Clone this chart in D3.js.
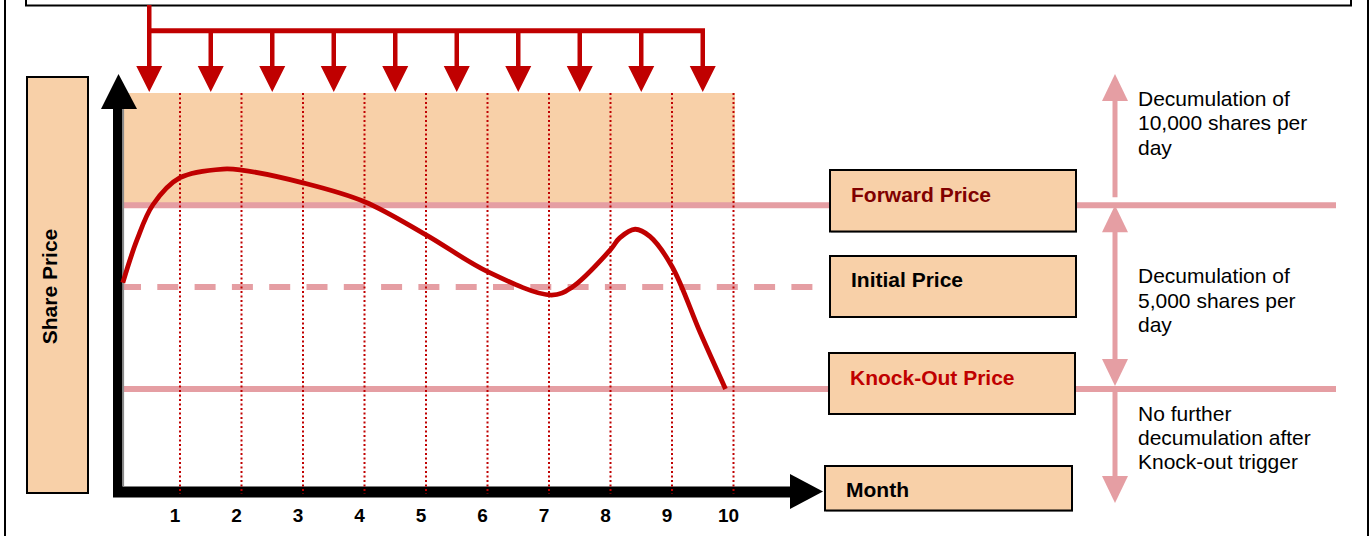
<!DOCTYPE html>
<html>
<head>
<meta charset="utf-8">
<script src="https://cdn.jsdelivr.net/npm/d3@7"></script>
<style>
  html, body { margin: 0; padding: 0; background: #fff; }
  svg { display: block; font-family: "Liberation Sans", Arial, sans-serif; }
</style>
</head>
<body>
<svg id="chart" width="1372" height="536"></svg>
<script>
// Months on the horizontal axis
const months = [1, 2, 3, 4, 5, 6, 7, 8, 9, 10];
const monthLabels = ["1", "2", "3", "4", "5", "6", "7", "8", "9", "10"];
// Monthly settlement points (mid-month)
const settlementMonths = [0.5, 1.5, 2.5, 3.5, 4.5, 5.5, 6.5, 7.5, 8.5, 9.5];

// Illustrative share price path (month, price)
const pathMonths = [0.07, 0.3, 0.56, 1.0, 1.7, 2.0, 3.0, 4.0, 5.0, 6.0, 7.04, 7.37, 8.0, 8.15, 8.4, 8.64, 9.0, 9.46, 9.87];
const pathPrices = [100.8, 109.2, 116.1, 121.4, 123.1, 122.9, 120.4, 116.7, 110.2, 103.0, 98.4, 99.9, 107.3, 109.6, 111.3, 109.9, 104.0, 91.0, 80.0];

// Reference price levels
const forwardPrice = 116;
const initialPrice = 100;
const knockOutPrice = 80;

const levelLabels = ["Forward Price", "Initial Price", "Knock-Out Price"];
const zoneTexts = [
  ["Decumulation of", "10,000 shares per", "day"],
  ["Decumulation of", "5,000 shares per", "day"],
  ["No further", "decumulation after", "Knock-out trigger"]
];

const RED = "#C00000";
const PINK = "#E59EA3";
const PEACH = "#F8D0A8";

const svg = d3.select("#chart");

const x = d3.scaleLinear().domain([0, 10]).range([118.5, 733.5]);
const y = d3.scaleLinear().domain([60, 138]).range([491, 93]);

// Outer frame
svg.append("line").attr("x1", 5).attr("x2", 5).attr("y1", 0).attr("y2", 536)
  .attr("stroke", "#000").attr("stroke-width", 2);
svg.append("line").attr("x1", 1368).attr("x2", 1368).attr("y1", 0).attr("y2", 536)
  .attr("stroke", "#000").attr("stroke-width", 2);
svg.append("rect").attr("x", 26).attr("y", -10).attr("width", 1325).attr("height", 15.5)
  .attr("fill", "#fff").attr("stroke", "#000").attr("stroke-width", 2);

// Shaded zone above forward price
svg.append("rect")
  .attr("x", x(0) + 5).attr("y", y(138))
  .attr("width", x(10) + 1.5 - x(0) - 5)
  .attr("height", y(forwardPrice) - y(138))
  .attr("fill", PEACH);

// Forward and knock-out level lines
[forwardPrice, knockOutPrice].forEach(p => {
  svg.append("line")
    .attr("x1", x(0) + 5).attr("x2", 1336)
    .attr("y1", y(p)).attr("y2", y(p))
    .attr("stroke", PINK).attr("stroke-width", 6);
});
// Initial price dashed line
svg.append("line")
  .attr("x1", 120).attr("x2", 813)
  .attr("y1", y(initialPrice)).attr("y2", y(initialPrice))
  .attr("stroke", PINK).attr("stroke-width", 6)
  .attr("stroke-dasharray", "21,16.3");

// Axes
const axisG = svg.append("g");
axisG.append("rect").attr("x", 113).attr("y", 109).attr("width", 9.5).attr("height", 388).attr("fill", "#000");
axisG.append("rect").attr("x", 122.5).attr("y", 109).attr("width", 1.6).attr("height", 377).attr("fill", "#8a8a8a");
axisG.append("path").attr("d", "M101,109 L118.5,74 L137,109 Z").attr("fill", "#000");
axisG.append("rect").attr("x", 113).attr("y", 486.5).attr("width", 678).attr("height", 11).attr("fill", "#000");
axisG.append("path").attr("d", "M790,474 L823,491.5 L790,509 Z").attr("fill", "#000");

// Monthly dotted gridlines
svg.append("g").selectAll("line").data(months).join("line")
  .attr("x1", d => x(d)).attr("x2", d => x(d))
  .attr("y1", y(138)).attr("y2", 494)
  .attr("stroke", RED).attr("stroke-width", 2)
  .attr("stroke-dasharray", "2,2.5");

// Month tick labels
svg.append("g").selectAll("text").data(months).join("text")
  .attr("x", d => x(d) - 5).attr("y", 522)
  .attr("text-anchor", "middle")
  .attr("font-size", 19).attr("font-weight", "bold")
  .text((d, i) => monthLabels[i]);

// Share price path
const pathData = pathMonths.map((m, i) => [m, pathPrices[i]]);
svg.append("path")
  .datum(pathData)
  .attr("d", d3.line().x(d => x(d[0])).y(d => y(d[1])).curve(d3.curveCatmullRom.alpha(0.5)))
  .attr("fill", "none").attr("stroke", RED).attr("stroke-width", 4.8);

// Settlement arrows from the top bar
const barY = 30.8;
const tipY = 92;
const headH = 26, headW = 26;
svg.append("line")
  .attr("x1", x(settlementMonths[0])).attr("x2", x(settlementMonths[0]))
  .attr("y1", 5).attr("y2", barY)
  .attr("stroke", RED).attr("stroke-width", 4.5);
svg.append("line")
  .attr("x1", x(settlementMonths[0]) - 2.25).attr("x2", x(settlementMonths[settlementMonths.length - 1]) + 2.25)
  .attr("y1", barY).attr("y2", barY)
  .attr("stroke", RED).attr("stroke-width", 5);
const arrows = svg.append("g").selectAll("g").data(settlementMonths).join("g");
arrows.append("line")
  .attr("x1", d => x(d)).attr("x2", d => x(d))
  .attr("y1", barY).attr("y2", tipY - headH + 2)
  .attr("stroke", RED).attr("stroke-width", 4.5);
arrows.append("path")
  .attr("d", d => `M${x(d) - headW / 2},${tipY - headH} L${x(d)},${tipY} L${x(d) + headW / 2},${tipY - headH} Z`)
  .attr("fill", RED);

// Side label boxes
function labelBox(bx, by, bw, bh) {
  svg.append("rect").attr("x", bx + 1).attr("y", by + 1).attr("width", bw).attr("height", bh)
    .attr("fill", "#9a9a9a");
  svg.append("rect").attr("x", bx).attr("y", by).attr("width", bw).attr("height", bh)
    .attr("fill", PEACH).attr("stroke", "#000").attr("stroke-width", 2);
}
labelBox(830, 170, 246, 61.5);
labelBox(830, 256, 246, 61);
labelBox(829, 353, 246, 61);
labelBox(825, 466, 247, 44.5);
labelBox(27, 77, 61, 416);

svg.append("text").attr("x", 851).attr("y", 202).attr("font-size", 21).attr("font-weight", "bold")
  .attr("fill", "#800000").text(levelLabels[0]);
svg.append("text").attr("x", 851).attr("y", 287).attr("font-size", 21).attr("font-weight", "bold")
  .attr("fill", "#000").text(levelLabels[1]);
svg.append("text").attr("x", 850).attr("y", 385).attr("font-size", 21).attr("font-weight", "bold")
  .attr("fill", RED).text(levelLabels[2]);
svg.append("text").attr("x", 846).attr("y", 497).attr("font-size", 21).attr("font-weight", "bold")
  .attr("fill", "#000").text("Month");
svg.append("text").attr("transform", "translate(57,286.5) rotate(-90)")
  .attr("text-anchor", "middle").attr("font-size", 21).attr("font-weight", "bold")
  .attr("fill", "#000").text("Share Price");

// Zone arrows on the right
const ax = 1115;
const pHeadW = 26, pHeadH = 27;
function pinkShaft(y1, y2) {
  svg.append("line").attr("x1", ax).attr("x2", ax).attr("y1", y1).attr("y2", y2)
    .attr("stroke", PINK).attr("stroke-width", 5);
}
function pinkHead(tip, dir) {
  // dir = -1 points up, +1 points down
  const base = tip - dir * pHeadH;
  svg.append("path")
    .attr("d", `M${ax - pHeadW / 2},${base} L${ax},${tip} L${ax + pHeadW / 2},${base} Z`)
    .attr("fill", PINK);
}
// upper zone
pinkShaft(y(forwardPrice) - 8, 90);
pinkHead(74, -1);
// middle zone (double-headed)
pinkShaft(y(forwardPrice) + 20, y(knockOutPrice) - 20);
pinkHead(y(forwardPrice), -1);
pinkHead(y(knockOutPrice) - 3, 1);
// lower zone
pinkShaft(y(knockOutPrice), 480);
pinkHead(503, 1);

// Zone descriptions
const zoneBaselines = [106, 283.3, 420.7];
zoneTexts.forEach((lines, i) => {
  svg.append("g").selectAll("text").data(lines).join("text")
    .attr("x", 1138).attr("y", (d, j) => zoneBaselines[i] + j * 24.3)
    .attr("font-size", 21).attr("fill", "#000")
    .text(d => d);
});
</script>
</body>
</html>
